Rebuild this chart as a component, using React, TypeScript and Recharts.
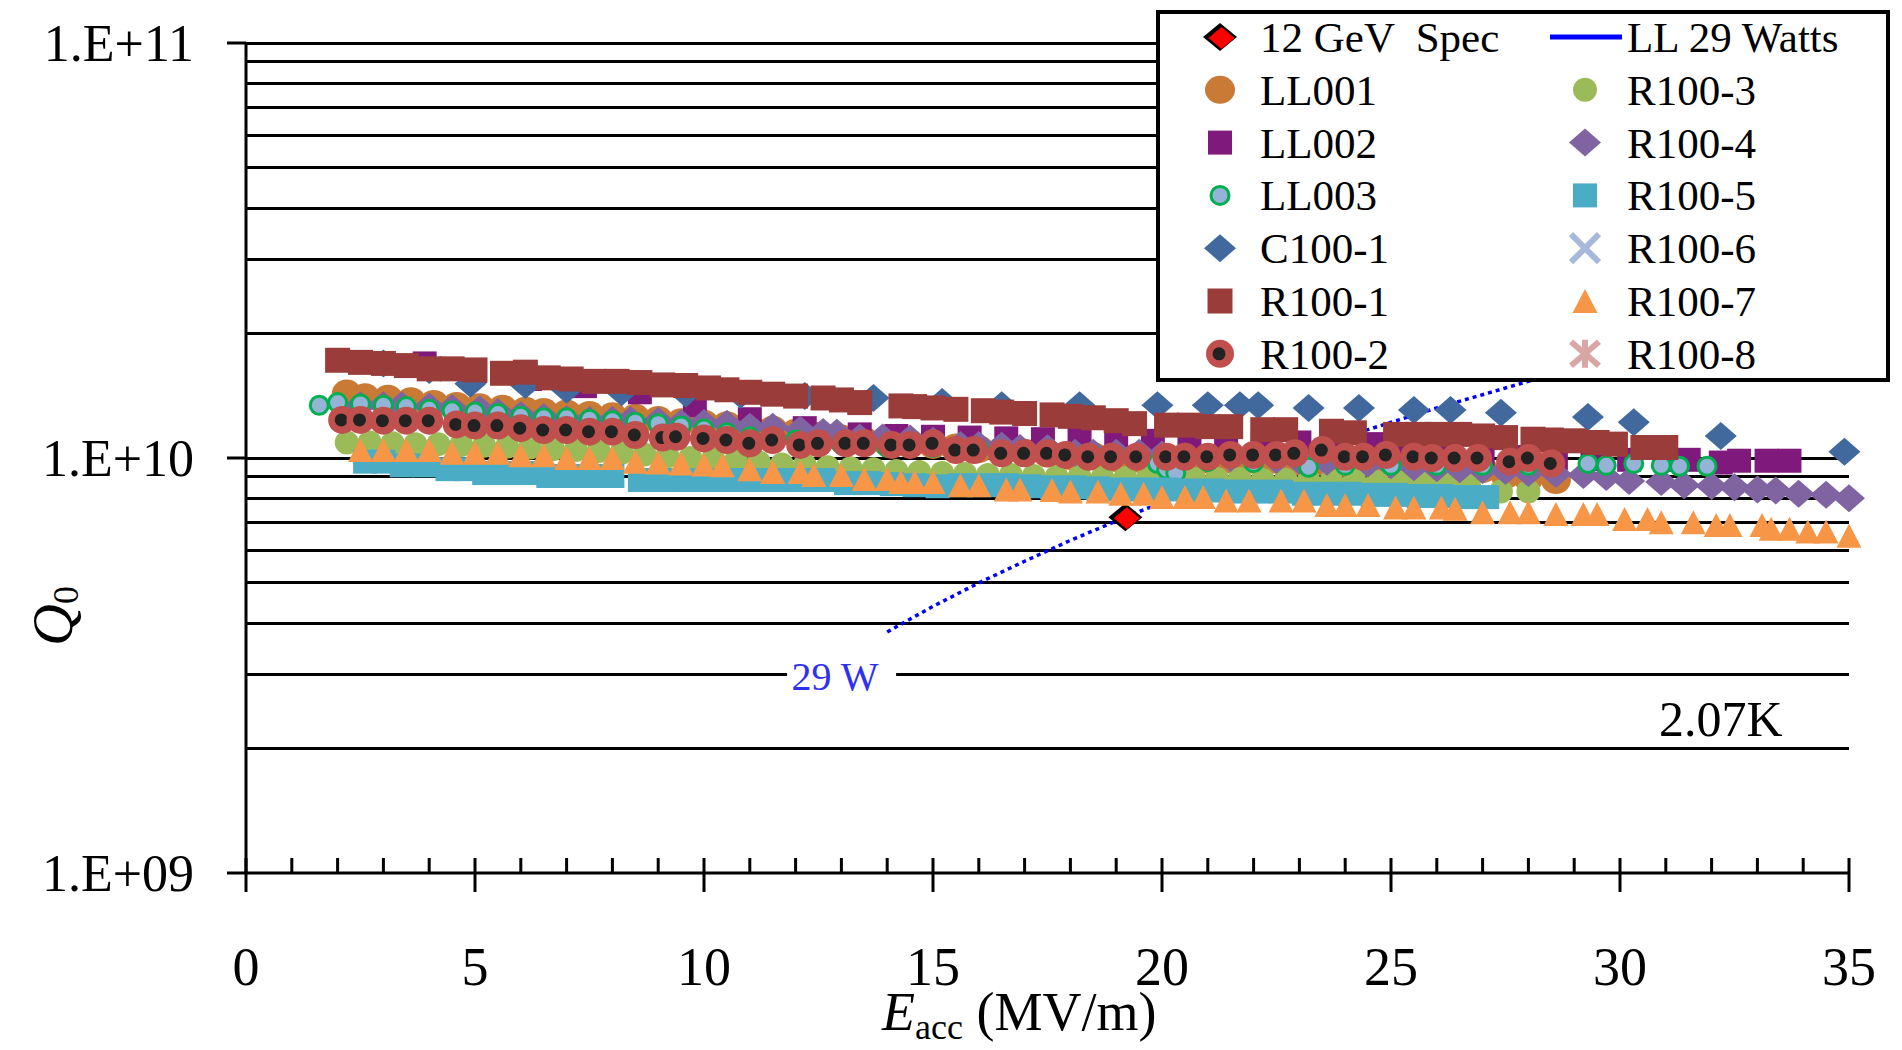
import React from "react";
import {
  ComposedChart,
  Scatter,
  Line,
  XAxis,
  YAxis,
  CartesianGrid,
  Legend,
  ReferenceDot,
} from "recharts";

const SERIF = "'Liberation Serif', 'Times New Roman', Times, serif";

// [E_acc (MV/m), Q0 (x 1e9)]
const spec12GeV = [[19.2, 7.2]];

const watts29 = [
  [14, 3.81], [15, 4.39], [16, 5.0], [17, 5.64], [18, 6.33], [19.2, 7.2], [20, 7.81],
  [22, 9.45], [24, 11.25], [26, 13.2], [28, 15.3], [30, 17.6], [32, 20.0], [35, 23.9],
];

const ll001 = [
  [2.2, 14.3], [2.6, 14.0], [3.1, 13.9], [3.6, 13.7], [4.1, 13.5], [4.6, 13.35], [5.1, 13.25],
  [5.6, 13.15], [6.1, 13.0], [6.5, 12.9], [7.0, 12.8], [7.5, 12.7], [8.0, 12.6], [8.5, 12.5],
  [9.0, 12.35], [9.5, 12.2], [10.0, 12.1], [10.5, 12.0], [11.0, 11.85], [11.5, 11.7], [12.0, 11.5],
  [12.5, 11.3], [13.0, 11.15], [13.5, 11.0], [14.0, 10.9], [14.5, 10.8], [15.0, 10.75], [15.5, 10.6],
  [16.0, 10.5], [16.5, 10.4], [17.0, 10.3], [17.5, 10.25], [18.0, 10.1], [18.5, 10.1], [19.0, 10.0],
  [19.5, 9.95], [20.0, 9.9], [20.5, 9.8], [21.0, 9.9], [21.5, 9.9], [22.0, 9.9], [22.5, 9.9],
  [23.0, 9.8], [23.5, 9.8], [24.0, 9.75], [24.5, 9.75], [25.0, 9.7], [25.5, 9.7], [26.0, 9.7],
  [26.5, 9.6], [27.0, 9.4], [27.5, 9.1], [28.0, 8.95], [28.6, 8.85],
];

const ll002 = [
  [3.9, 16.9], [5.0, 16.2], [6.2, 15.5], [7.4, 14.9], [8.6, 14.4], [9.8, 13.4], [11.0, 12.4],
  [12.2, 11.8], [13.4, 11.4], [14.2, 11.3], [15.0, 11.25], [15.8, 11.2], [16.6, 11.15], [17.4, 11.1],
  [18.2, 11.05], [19.0, 11.0], [19.8, 11.0], [20.6, 11.0], [21.4, 10.95], [22.2, 10.9], [23.0, 10.9],
  [23.8, 10.85], [24.6, 10.8], [25.4, 10.6], [26.2, 10.3], [27.0, 10.1], [27.8, 10.05], [28.6, 10.0],
  [29.4, 9.95], [30.2, 9.9], [31.0, 9.9], [31.5, 9.9], [32.2, 9.75], [32.6, 9.85], [33.2, 9.85],
  [33.7, 9.85],
];

const ll003 = [
  [1.6, 13.4], [2.0, 13.6], [2.5, 13.5], [3.0, 13.4], [3.5, 13.3], [4.0, 13.1], [4.5, 13.0],
  [5.0, 12.9], [5.5, 12.8], [6.0, 12.6], [6.5, 12.5], [7.0, 12.5], [7.5, 12.4], [8.0, 12.3],
  [8.5, 12.2], [9.0, 12.1], [9.5, 11.95], [10.0, 11.75], [10.5, 11.5], [11.0, 11.25], [11.5, 11.15],
  [12.0, 11.05], [12.5, 10.9], [13.0, 10.8], [13.5, 10.7], [14.0, 10.6], [14.5, 10.6], [15.0, 10.6],
  [15.5, 10.5], [16.0, 10.5], [16.5, 10.45], [17.0, 10.3], [17.5, 10.2], [18.0, 10.2], [18.5, 10.15],
  [19.0, 10.1], [19.5, 10.0], [19.9, 9.7], [20.1, 9.4], [20.3, 9.2], [21.0, 9.8], [22.0, 9.75],
  [23.2, 9.5], [24.0, 9.6], [25.0, 9.6], [26.0, 9.6], [27.0, 9.6], [28.0, 9.6], [29.3, 9.7],
  [29.7, 9.6], [30.3, 9.7], [30.9, 9.6], [31.3, 9.55], [31.9, 9.55],
];

const c100_1 = [
  [3.0, 16.9], [4.0, 16.3], [4.9, 15.1], [6.1, 15.0], [7.0, 14.6], [8.2, 14.4], [9.6, 14.3],
  [10.8, 14.2], [12.2, 14.1], [13.7, 13.95], [15.2, 13.65], [16.5, 13.4], [18.2, 13.4], [19.9, 13.4],
  [21.0, 13.4], [21.7, 13.4], [22.1, 13.4], [23.2, 13.2], [24.3, 13.2], [25.5, 13.05], [26.3, 13.05],
  [27.4, 12.85], [29.3, 12.55], [30.3, 12.2], [32.2, 11.3], [34.9, 10.35],
];

const r100_1 = [
  [2.0, 17.2], [2.5, 17.0], [3.0, 16.9], [3.5, 16.7], [4.0, 16.4], [4.5, 16.4], [5.0, 16.3],
  [5.6, 16.0], [6.1, 16.1], [6.6, 15.6], [7.1, 15.5], [7.6, 15.3], [8.1, 15.3], [8.6, 15.2],
  [9.1, 15.0], [9.6, 14.95], [10.1, 14.75], [10.5, 14.6], [11.0, 14.4], [11.5, 14.25], [12.0, 14.1],
  [12.6, 13.95], [13.0, 13.8], [13.4, 13.6], [14.3, 13.35], [14.6, 13.3], [15.0, 13.2], [15.5, 13.1],
  [16.1, 13.0], [16.5, 12.9], [17.0, 12.8], [17.6, 12.7], [18.0, 12.6], [18.5, 12.5], [19.0, 12.3],
  [19.4, 12.1], [20.1, 12.0], [20.6, 12.0], [21.0, 11.9], [21.5, 11.9], [22.2, 11.7], [22.7, 11.7],
  [23.7, 11.6], [24.2, 11.5], [25.1, 11.4], [25.6, 11.4], [26.0, 11.4], [26.5, 11.4], [27.0, 11.3],
  [27.5, 11.2], [28.1, 11.1], [28.5, 11.05], [29.0, 11.0], [29.5, 10.9], [29.9, 10.8], [30.5, 10.6],
  [31.0, 10.6],
];

const r100_2 = [
  [2.1, 12.35], [2.5, 12.35], [3.0, 12.3], [3.5, 12.3], [4.0, 12.3], [4.6, 12.05], [5.0, 11.97],
  [5.5, 11.97], [6.0, 11.8], [6.5, 11.68], [7.0, 11.68], [7.5, 11.57], [8.0, 11.57], [8.5, 11.36],
  [9.1, 11.2], [9.4, 11.25], [10.0, 11.15], [10.5, 11.05], [11.0, 10.85], [11.5, 11.05], [12.1, 10.75],
  [12.5, 10.85], [13.1, 10.85], [13.5, 10.85], [14.1, 10.75], [14.5, 10.75], [15.0, 10.85], [15.5, 10.45],
  [15.9, 10.45], [16.5, 10.26], [17.0, 10.26], [17.5, 10.26], [17.9, 10.17], [18.4, 10.07], [18.9, 10.07],
  [19.45, 10.07], [20.1, 10.07], [20.5, 10.07], [21.0, 10.07], [21.5, 10.17], [22.0, 10.17], [22.5, 10.17],
  [22.9, 10.26], [23.5, 10.45], [24.0, 10.07], [24.4, 10.07], [24.9, 10.17], [25.5, 10.07], [25.9, 10.0],
  [26.4, 10.0], [26.9, 10.0], [27.6, 9.8], [28.0, 10.0], [28.5, 9.7],
];

const r100_3 = [
  [2.2, 10.9], [2.7, 10.9], [3.2, 10.85], [3.7, 10.8], [4.2, 10.8], [4.7, 10.75], [5.2, 10.7],
  [5.7, 10.65], [6.2, 10.6], [6.7, 10.5], [7.2, 10.45], [7.7, 10.4], [8.2, 10.3], [8.7, 10.2],
  [9.2, 10.1], [9.7, 10.0], [10.2, 9.95], [10.7, 9.85], [11.2, 9.75], [11.7, 9.65], [12.2, 9.6],
  [12.7, 9.5], [13.2, 9.45], [13.7, 9.4], [14.2, 9.3], [14.7, 9.25], [15.2, 9.2], [15.7, 9.15],
  [16.2, 9.1], [16.7, 9.1], [17.2, 9.05], [17.7, 9.0], [18.2, 9.0], [18.7, 8.95], [19.2, 8.95],
  [19.7, 8.95], [20.2, 8.95], [20.7, 8.9], [21.2, 8.9], [21.7, 8.9], [22.2, 8.85], [22.7, 8.85],
  [23.2, 8.8], [23.7, 8.8], [24.2, 8.8], [24.7, 8.75], [25.2, 8.75], [25.7, 8.7], [26.2, 8.7],
  [26.7, 8.65], [27.4, 8.3], [28.0, 8.3],
];

const r100_4 = [
  [2.5, 13.4], [3.0, 13.4], [3.4, 13.4], [4.0, 13.3], [4.5, 13.2], [5.1, 13.1], [5.5, 12.9],
  [6.0, 12.7], [6.5, 12.55], [7.0, 12.4], [7.5, 12.35], [8.0, 12.35], [8.4, 12.35], [9.0, 12.3],
  [9.5, 12.15], [10.0, 12.15], [10.5, 12.1], [11.0, 11.9], [11.5, 11.9], [12.1, 11.7], [12.6, 11.55],
  [12.9, 11.5], [13.4, 11.2], [13.9, 11.2], [14.5, 11.15], [15.0, 11.0], [15.6, 10.75], [16.0, 10.75],
  [16.5, 10.7], [16.9, 10.57], [17.5, 10.55], [18.1, 10.3], [18.5, 10.3], [19.0, 10.3], [19.5, 10.3],
  [20.0, 10.2], [20.5, 10.1], [21.0, 10.0], [21.5, 10.0], [22.0, 9.95], [22.5, 9.9], [23.0, 9.85],
  [23.6, 9.8], [24.0, 9.75], [24.5, 9.7], [25.0, 9.6], [25.5, 9.5], [26.0, 9.45], [26.5, 9.4],
  [27.0, 9.35], [27.5, 9.3], [28.0, 9.2], [28.6, 9.15], [29.2, 9.1], [29.7, 9.0], [30.2, 8.8],
  [30.9, 8.75], [31.4, 8.6], [32.0, 8.56], [32.5, 8.5], [33.0, 8.4], [33.4, 8.35], [33.9, 8.2],
  [34.5, 8.15], [35.0, 8.0],
];

const r100_5 = [
  [2.6, 9.8], [3.0, 9.8], [3.4, 9.6], [3.9, 9.6], [4.4, 9.4], [4.8, 9.4], [5.2, 9.2],
  [5.7, 9.2], [6.2, 9.2], [6.6, 9.05], [7.1, 9.05], [7.6, 9.05], [8.0, 9.05], [8.6, 8.85],
  [9.1, 8.85], [9.6, 8.85], [10.1, 8.85], [10.6, 8.85], [11.1, 8.85], [11.6, 8.85], [12.1, 8.85],
  [12.6, 8.85], [13.1, 8.7], [13.6, 8.7], [14.1, 8.65], [14.6, 8.6], [15.1, 8.55], [15.6, 8.6],
  [16.1, 8.6], [16.6, 8.6], [17.1, 8.55], [17.6, 8.5], [18.1, 8.5], [18.6, 8.45], [19.1, 8.4],
  [19.6, 8.4], [20.1, 8.4], [20.6, 8.35], [21.1, 8.35], [21.6, 8.3], [22.1, 8.3], [22.6, 8.3],
  [23.1, 8.2], [23.6, 8.2], [24.1, 8.2], [24.6, 8.15], [25.1, 8.15], [25.6, 8.1], [26.1, 8.1],
  [26.6, 8.05], [27.1, 8.05],
];

const r100_6: number[][] = [];

const r100_7 = [
  [2.5, 10.45], [3.0, 10.45], [3.5, 10.45], [4.0, 10.45], [4.5, 10.3], [5.0, 10.3], [5.5, 10.3],
  [6.0, 10.15], [6.5, 10.15], [7.0, 10.0], [7.5, 10.0], [8.0, 10.0], [8.5, 9.8], [9.0, 9.75],
  [9.5, 9.7], [10.0, 9.65], [10.4, 9.6], [11.0, 9.4], [11.5, 9.25], [12.1, 9.25], [12.4, 9.1],
  [13.0, 9.1], [13.5, 8.9], [14.0, 8.9], [14.3, 8.75], [14.6, 8.75], [15.0, 8.75], [15.6, 8.6],
  [16.0, 8.6], [16.6, 8.4], [16.9, 8.4], [17.6, 8.37], [18.0, 8.3], [18.6, 8.3], [19.1, 8.2],
  [19.6, 8.2], [20.0, 8.05], [20.5, 8.05], [20.9, 8.05], [21.4, 7.9], [21.9, 7.9], [22.6, 7.9],
  [23.1, 7.9], [23.6, 7.7], [24.0, 7.7], [24.5, 7.7], [25.1, 7.6], [25.5, 7.6], [26.1, 7.6],
  [26.4, 7.55], [27.0, 7.4], [27.6, 7.4], [28.0, 7.4], [28.6, 7.33], [29.2, 7.33], [29.5, 7.33],
  [30.1, 7.13], [30.6, 7.13], [30.9, 7.0], [31.6, 7.0], [32.1, 6.9], [32.4, 6.9], [33.1, 6.9],
  [33.3, 6.75], [33.7, 6.75], [34.1, 6.65], [34.5, 6.65], [35.0, 6.5],
];

const r100_8: number[][] = [];

const xTicks = [
  0, 1, 2, 3, 4, 5, 6, 7, 8, 9, 10, 11, 12, 13, 14, 15, 16, 17, 18, 19, 20, 21, 22, 23, 24, 25,
  26, 27, 28, 29, 30, 31, 32, 33, 34, 35,
];
const yTicks = [1e9, 1e10, 1e11];
const gridValues = [
  2e9, 3e9, 4e9, 5e9, 6e9, 7e9, 8e9, 9e9, 1e10,
  2e10, 3e10, 4e10, 5e10, 6e10, 7e10, 8e10, 9e10, 1e11,
];

const toPoints = (rows: number[][]) => rows.map(([e, q]) => ({ e, q: q * 1e9 }));

type Kind =
  | "spec" | "line" | "bigCircle" | "square" | "bigSquare" | "ll003" | "diamond"
  | "r2" | "circle" | "x" | "triangle" | "star";

const series: { name: string; rows: number[][]; kind: Kind; color: string }[] = [
  { name: "12 GeV  Spec", rows: spec12GeV, kind: "spec", color: "#FF0000" },
  { name: "LL 29 Watts", rows: watts29, kind: "line", color: "#0000FF" },
  { name: "LL001", rows: ll001, kind: "bigCircle", color: "#C97B36" },
  { name: "R100-3", rows: r100_3, kind: "circle", color: "#9BBB59" },
  { name: "LL002", rows: ll002, kind: "square", color: "#7F1A7C" },
  { name: "R100-4", rows: r100_4, kind: "diamond", color: "#8064A2" },
  { name: "LL003", rows: ll003, kind: "ll003", color: "#95B3D7" },
  { name: "R100-5", rows: r100_5, kind: "square", color: "#4BACC6" },
  { name: "C100-1", rows: c100_1, kind: "diamond", color: "#41699E" },
  { name: "R100-6", rows: r100_6, kind: "x", color: "#A7B9D9" },
  { name: "R100-1", rows: r100_1, kind: "bigSquare", color: "#9A3D3A" },
  { name: "R100-7", rows: r100_7, kind: "triangle", color: "#F79646" },
  { name: "R100-2", rows: r100_2, kind: "r2", color: "#C0504D" },
  { name: "R100-8", rows: r100_8, kind: "star", color: "#D9A6A6" },
];

const legendCol1 = ["12 GeV  Spec", "LL001", "LL002", "LL003", "C100-1", "R100-1", "R100-2"];
const legendCol2 = ["LL 29 Watts", "R100-3", "R100-4", "R100-5", "R100-6", "R100-7", "R100-8"];

const diamond = (cx: number, cy: number, hw: number, hh: number) =>
  `${cx},${cy - hh} ${cx + hw},${cy} ${cx},${cy + hh} ${cx - hw},${cy}`;

const drawMarker = (kind: Kind, color: string, cx: number, cy: number) => {
  if (cx == null || cy == null) return <g />;
  switch (kind) {
    case "spec":
      return (
        <g>
          <polygon points={diamond(cx, cy, 17, 14)} fill="#000" />
          <polygon points={diamond(cx + 1.5, cy + 1, 13, 11)} fill={color} />
        </g>
      );
    case "bigCircle":
      return <ellipse cx={cx} cy={cy} rx={15} ry={14} fill={color} />;
    case "square":
      return <rect x={cx - 12} y={cy - 12} width={24} height={24} fill={color} />;
    case "bigSquare":
      return <rect x={cx - 12.5} y={cy - 12.5} width={25} height={25} fill={color} />;
    case "ll003":
      return <circle cx={cx} cy={cy} r={9} fill={color} stroke="#00B050" strokeWidth={3} />;
    case "diamond":
      return <polygon points={diamond(cx, cy, 16, 14)} fill={color} />;
    case "r2":
      return (
        <g>
          <circle cx={cx} cy={cy} r={14} fill={color} />
          <circle cx={cx - 1} cy={cy} r={6.5} fill="#222" />
        </g>
      );
    case "circle":
      return <circle cx={cx} cy={cy} r={12} fill={color} />;
    case "x":
      return (
        <g stroke={color} strokeWidth={6}>
          <line x1={cx - 14} y1={cy - 14} x2={cx + 14} y2={cy + 14} />
          <line x1={cx - 14} y1={cy + 14} x2={cx + 14} y2={cy - 14} />
        </g>
      );
    case "triangle":
      return (
        <polygon
          points={`${cx},${cy - 12} ${cx + 12.5},${cy + 12} ${cx - 12.5},${cy + 12}`}
          fill={color}
        />
      );
    case "star":
      return (
        <g stroke={color} strokeWidth={6}>
          <line x1={cx - 14} y1={cy - 12} x2={cx + 14} y2={cy + 12} />
          <line x1={cx - 14} y1={cy + 12} x2={cx + 14} y2={cy - 12} />
          <line x1={cx} y1={cy - 14} x2={cx} y2={cy + 14} />
        </g>
      );
    default:
      return <g />;
  }
};

const byName: Record<string, (typeof series)[number]> = {};
series.forEach((s) => (byName[s.name] = s));

const renderLegend = () => {
  const row = (name: string, i: number, mx: number, tx: number) => {
    const s = byName[name];
    const cy = 27 + i * 52.8;
    return (
      <g key={name}>
        {s.kind === "line" ? (
          <line x1={mx - 35} x2={mx + 37} y1={cy} y2={cy} stroke={s.color} strokeWidth={5} />
        ) : (
          drawMarker(s.kind, s.color, mx, cy)
        )}
        <text x={tx} y={cy + 15} fontSize={43} fontFamily={SERIF} fill="#000" xmlSpace="preserve">
          {name}
        </text>
      </g>
    );
  };
  return (
    <svg width={734} height={372} style={{ display: "block" }}>
      <rect x={2} y={2} width={730} height={368} fill="#fff" stroke="#000" strokeWidth={4} />
      {legendCol1.map((n, i) => row(n, i, 64, 104))}
      {legendCol2.map((n, i) => row(n, i, 429, 471))}
    </svg>
  );
};

const XTick = (props: any) => {
  const { x, y, payload } = props;
  const v = payload.value;
  const major = v % 5 === 0;
  return (
    <g>
      <line x1={x} x2={x} y1={y} y2={y - 15} stroke="#000" strokeWidth={3} />
      {major && <line x1={x} x2={x} y1={y} y2={y + 19} stroke="#000" strokeWidth={3} />}
      {major && (
        <text x={x} y={y + 112} textAnchor="middle" fontSize={54} fontFamily={SERIF} fill="#000">
          {v}
        </text>
      )}
    </g>
  );
};

const XTitle = () => (
  <text x={882} y={1030} fontSize={54} fontFamily={SERIF} fill="#000">
    <tspan fontStyle="italic">E</tspan>
    <tspan fontSize={36} dy={9}>acc</tspan>
    <tspan dy={-9}> (MV/m)</tspan>
  </text>
);

const YTitle = () => (
  <text
    x={72}
    y={616}
    transform="rotate(-90 72 616)"
    textAnchor="middle"
    fontSize={58}
    fontFamily={SERIF}
    fill="#000"
  >
    <tspan fontStyle="italic">Q</tspan>
    <tspan fontSize={36} dy={6}>0</tspan>
  </text>
);

const formatY = (v: number) => {
  const exp = Math.round(Math.log10(v));
  return `1.E+${String(exp).padStart(2, "0")}`;
};

export default function App() {
  return (
    <div style={{ position: "absolute", left: 0, top: 0, width: 1902, height: 1050, background: "#fff" }}>
      <ComposedChart
        width={1902}
        height={1050}
        margin={{ top: 43, right: 53, bottom: 77, left: 46 }}
      >
        <CartesianGrid
          vertical={false}
          horizontalValues={gridValues}
          stroke="#000"
          strokeWidth={3}
          shapeRendering="crispEdges"
        />
        <XAxis
          dataKey="e"
          type="number"
          domain={[0, 35]}
          ticks={xTicks}
          interval={0}
          height={100}
          tickSize={0}
          tickMargin={0}
          tickLine={false}
          axisLine={{ stroke: "#000", strokeWidth: 3 }}
          tick={<XTick />}
          label={<XTitle />}
        />
        <YAxis
          dataKey="q"
          type="number"
          scale="log"
          domain={[1e9, 1e11]}
          ticks={yTicks}
          interval={0}
          width={200}
          tickSize={19}
          tickMargin={33}
          tickFormatter={formatY}
          tick={{ fontSize: 52, fontFamily: SERIF, fill: "#000" }}
          tickLine={{ stroke: "#000", strokeWidth: 3 }}
          axisLine={{ stroke: "#000", strokeWidth: 3 }}
          label={<YTitle />}
        />
        {series.map((s) =>
          s.kind === "line" ? (
            <Line
              key={s.name}
              name={s.name}
              data={toPoints(s.rows)}
              dataKey="q"
              type="linear"
              stroke={s.color}
              strokeWidth={3.5}
              strokeDasharray="4 4"
              dot={false}
              activeDot={false}
              isAnimationActive={false}
            />
          ) : (
            <Scatter
              key={s.name}
              name={s.name}
              data={toPoints(s.rows)}
              isAnimationActive={false}
              shape={(p: any) => drawMarker(s.kind, s.color, p.cx, p.cy)}
            />
          )
        )}
        <ReferenceDot
          x={12.95}
          y={3e9}
          r={0}
          ifOverflow="visible"
          shape={(p: any) => (
            <g>
              <rect x={p.cx - 52} y={p.cy - 20} width={109} height={40} fill="#fff" />
              <text x={p.cx - 4} y={p.cy + 15} textAnchor="middle" fontSize={40} fontFamily={SERIF} fill="#3030F0">
                29 W
              </text>
            </g>
          )}
        />
        <ReferenceDot
          x={32.2}
          y={2.3e9}
          r={0}
          ifOverflow="visible"
          shape={(p: any) => (
            <text x={p.cx} y={p.cy + 13} textAnchor="middle" fontSize={50} fontFamily={SERIF} fill="#000">
              2.07K
            </text>
          )}
        />
        <Legend
          layout="vertical"
          align="center"
          verticalAlign="middle"
          content={renderLegend}
          wrapperStyle={{ position: "absolute", left: 1156, top: 10, width: 734, height: 372, margin: 0, padding: 0, lineHeight: 0 }}
        />
      </ComposedChart>
    </div>
  );
}
